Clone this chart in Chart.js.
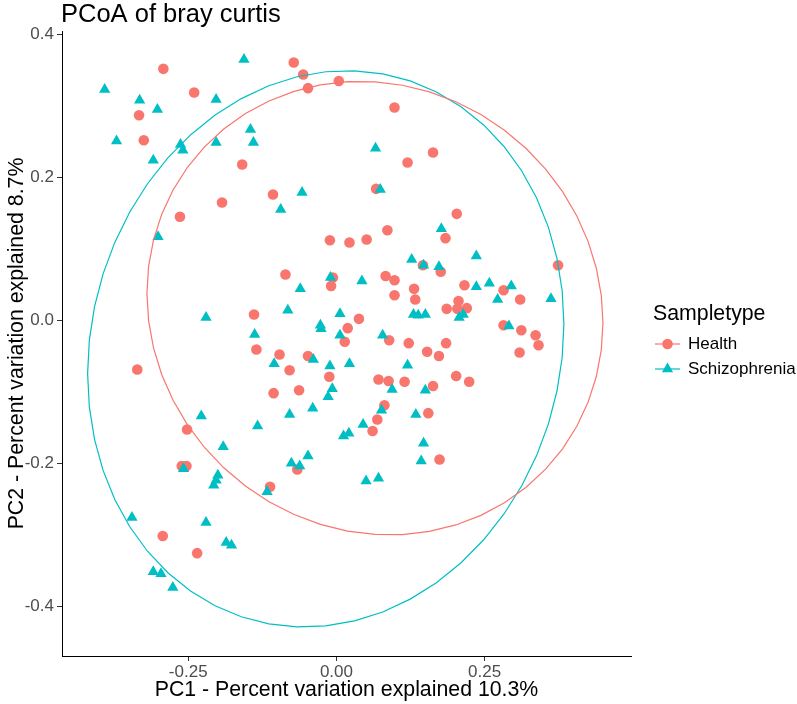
<!DOCTYPE html>
<html>
<head>
<meta charset="utf-8">
<script src="https://cdn.jsdelivr.net/npm/chart.js@4"></script>
<style>
  html, body { margin: 0; padding: 0; background: #fff; }
  #wrap { width: 797px; height: 704px; }
</style>
</head>
<body>
<div id="wrap"><canvas id="pcoa" width="797" height="704"></canvas></div>
<script>
const groups = ['Health', 'Schizophrenia'];
const colors = ['#F8766D', '#00BFC4'];

// [PC1, PC2] per sample
const healthPoints = [
  [-0.292, 0.352], [-0.240, 0.319], [-0.333, 0.287], [-0.325, 0.252], [-0.159, 0.218],
  [-0.193, 0.165], [-0.264, 0.145], [-0.072, 0.361], [-0.056, 0.344], [-0.048, 0.325],
  [0.004, 0.335], [0.098, 0.298], [0.163, 0.235], [0.120, 0.221], [-0.107, 0.176],
  [0.067, 0.184], [0.203, 0.149], [-0.139, 0.008], [-0.135, -0.041], [-0.336, -0.069],
  [-0.011, 0.112], [0.022, 0.109], [0.051, 0.113], [0.086, 0.126], [0.184, 0.115],
  [-0.086, 0.064], [-0.006, 0.060], [-0.009, 0.048], [0.083, 0.062], [0.098, 0.056],
  [0.098, 0.035], [0.131, 0.044], [0.133, 0.029], [0.146, 0.077], [0.176, 0.068],
  [0.186, 0.016], [0.038, 0.002], [0.019, -0.011], [0.014, -0.030], [0.089, -0.028],
  [0.122, -0.032], [0.185, -0.032], [0.153, -0.044], [0.173, -0.050], [-0.096, -0.048],
  [-0.079, -0.070], [-0.048, -0.050], [-0.012, -0.079], [0.071, -0.083], [0.088, -0.085],
  [0.115, -0.086], [0.163, -0.092], [-0.106, -0.102], [-0.063, -0.098], [0.374, 0.077],
  [0.216, 0.049], [0.282, 0.042], [0.310, 0.029], [0.206, 0.027], [0.220, 0.017],
  [0.204, 0.016], [0.282, -0.007], [0.312, -0.014], [0.336, -0.021], [0.341, -0.035],
  [0.309, -0.045], [0.202, -0.078], [0.224, -0.086], [-0.252, -0.153], [-0.261, -0.204],
  [-0.253, -0.204], [-0.293, -0.302], [-0.235, -0.326], [0.081, -0.119], [0.069, -0.139],
  [0.061, -0.155], [0.155, -0.130], [0.174, -0.195], [-0.066, -0.209], [-0.112, -0.233]
];

const schizoPoints = [
  [-0.156, 0.365], [-0.391, 0.323], [-0.332, 0.308], [-0.203, 0.309], [-0.302, 0.295],
  [-0.145, 0.267], [-0.371, 0.251], [-0.263, 0.246], [-0.259, 0.238], [-0.203, 0.249],
  [-0.140, 0.249], [-0.309, 0.224], [0.066, 0.241], [-0.058, 0.179], [-0.094, 0.155],
  [0.074, 0.183], [-0.301, 0.117], [-0.220, 0.004], [-0.138, -0.020], [0.177, 0.128],
  [0.127, 0.085], [0.147, 0.077], [0.173, 0.075], [-0.010, 0.060], [0.043, 0.055],
  [-0.061, 0.044], [-0.082, 0.014], [0.006, 0.009], [0.130, 0.008], [0.138, 0.007],
  [0.150, 0.008], [-0.027, -0.007], [-0.026, -0.012], [0.006, -0.021], [0.078, -0.021],
  [-0.105, -0.061], [-0.039, -0.055], [-0.011, -0.064], [0.022, -0.061], [0.120, -0.063],
  [-0.007, -0.096], [-0.014, -0.107], [0.094, -0.097], [0.150, -0.098], [0.236, 0.090],
  [0.236, 0.047], [0.258, 0.052], [0.295, 0.048], [0.272, 0.029], [0.362, 0.030],
  [0.207, 0.004], [0.214, 0.008], [0.291, -0.008], [-0.228, -0.134], [-0.133, -0.148],
  [-0.191, -0.177], [-0.258, -0.208], [-0.200, -0.217], [-0.203, -0.224], [-0.207, -0.231],
  [-0.345, -0.276], [-0.220, -0.283], [-0.186, -0.311], [-0.177, -0.315], [-0.309, -0.352],
  [-0.296, -0.355], [-0.276, -0.374], [-0.079, -0.132], [-0.040, -0.123], [0.076, -0.126],
  [0.045, -0.146], [0.012, -0.162], [0.021, -0.158], [0.134, -0.132], [0.147, -0.172],
  [0.143, -0.197], [-0.048, -0.190], [-0.076, -0.200], [-0.062, -0.204], [0.050, -0.225],
  [0.071, -0.221], [-0.117, -0.240]
];

// stat_ellipse outlines: centre [PC1, PC2] and spread [sd PC1, sd PC2, covariance]
const ellipseCentres = [[0.065, 0.017], [-0.018, -0.040]];
const ellipseSpreads = [[0.3847, 0.3175, -0.0079], [0.4018, 0.3895, 0.0140]];

const xTicks = [-0.25, 0, 0.25];
const yTicks = [-0.4, -0.2, 0, 0.2, 0.4];
const xRange = [-0.463, 0.497];
const yRange = [-0.470, 0.405];

const FONT = '"Liberation Sans", Arial, sans-serif';

function ellipseOutline(c, s) {
  const l21 = s[2] / s[0];
  const l22 = Math.sqrt(s[1] * s[1] - l21 * l21);
  const out = [];
  for (let i = 0; i <= 52; i++) {
    const t = 2 * Math.PI * i / 52;
    out.push({ x: c[0] + s[0] * Math.cos(t), y: c[1] + l21 * Math.cos(t) + l22 * Math.sin(t) });
  }
  return out;
}

const toXY = arr => arr.map(p => ({ x: p[0], y: p[1] }));

const legendPlugin = {
  id: 'ggLegend',
  afterDraw(chart) {
    const ctx = chart.ctx;
    ctx.save();
    // plot title
    ctx.fillStyle = '#000';
    ctx.font = '25.5px ' + FONT;
    ctx.textAlign = 'left';
    ctx.textBaseline = 'alphabetic';
    ctx.fillText('PCoA of bray curtis', 61, 22);

    ctx.font = '21.3px ' + FONT;
    ctx.textBaseline = 'middle';
    ctx.fillText('Sampletype', 653, 314);

    const rows = [344, 369];
    groups.forEach((g, i) => {
      const y = rows[i];
      ctx.strokeStyle = colors[i];
      ctx.lineWidth = 1.2;
      ctx.beginPath();
      ctx.moveTo(655, y);
      ctx.lineTo(680, y);
      ctx.stroke();
      ctx.fillStyle = colors[i];
      ctx.beginPath();
      if (i === 0) {
        ctx.arc(667.5, y, 5.3, 0, Math.PI * 2);
      } else {
        const r = 6.5;
        ctx.moveTo(667.5, y - r);
        ctx.lineTo(667.5 + r * Math.sqrt(3) / 2, y + r / 2);
        ctx.lineTo(667.5 - r * Math.sqrt(3) / 2, y + r / 2);
        ctx.closePath();
      }
      ctx.fill();
      ctx.fillStyle = '#000';
      ctx.font = '17px ' + FONT;
      ctx.fillText(g, 688, y);
    });
    ctx.restore();
  }
};

const axisCommon = {
  type: 'linear',
  grid: { drawOnChartArea: false, drawTicks: true, tickLength: 5, tickColor: '#333333', tickWidth: 1 },
  border: { display: true, color: '#000', width: 1 }
};

new Chart(document.getElementById('pcoa'), {
  type: 'scatter',
  data: {
    datasets: [
      {
        label: groups[0] + ' ellipse',
        data: ellipseOutline(ellipseCentres[0], ellipseSpreads[0]),
        showLine: true, borderColor: colors[0], borderWidth: 1.2,
        pointRadius: 0, fill: false, tension: 0
      },
      {
        label: groups[1] + ' ellipse',
        data: ellipseOutline(ellipseCentres[1], ellipseSpreads[1]),
        showLine: true, borderColor: colors[1], borderWidth: 1.2,
        pointRadius: 0, fill: false, tension: 0
      },
      {
        label: groups[1],
        data: toXY(schizoPoints),
        pointStyle: 'triangle', pointRadius: 6.5, pointBorderWidth: 0,
        backgroundColor: colors[1], borderColor: colors[1]
      },
      {
        label: groups[0],
        data: toXY(healthPoints),
        pointStyle: 'circle', pointRadius: 5.3, pointBorderWidth: 0,
        backgroundColor: colors[0], borderColor: colors[0]
      }
    ]
  },
  options: {
    responsive: false,
    animation: false,
    devicePixelRatio: 1,
    layout: { padding: { top: 31, right: 166, bottom: 0, left: 0 } },
    plugins: { legend: { display: false }, tooltip: { enabled: false }, title: { display: false } },
    scales: {
      x: {
        ...axisCommon,
        min: xRange[0], max: xRange[1],
        afterBuildTicks: s => { s.ticks = xTicks.map(v => ({ value: v })); },
        afterFit: s => { s.height = 48; },
        ticks: { color: '#4D4D4D', font: { family: FONT, size: 17 }, padding: 1, callback: v => v.toFixed(2) },
        title: { display: true, text: 'PC1 - Percent variation explained 10.3%', color: '#000',
                 font: { family: FONT, size: 21.3 }, padding: { top: 0, bottom: 1 } }
      },
      y: {
        ...axisCommon,
        min: yRange[0], max: yRange[1],
        afterBuildTicks: s => { s.ticks = yTicks.map(v => ({ value: v })); },
        afterFit: s => { s.width = 62; },
        ticks: { color: '#4D4D4D', font: { family: FONT, size: 17 }, padding: 3, callback: v => v.toFixed(1) },
        title: { display: true, text: 'PC2 - Percent variation explained 8.7%', color: '#000',
                 font: { family: FONT, size: 21.3 }, padding: { top: 4, bottom: 0 } }
      }
    }
  },
  plugins: [legendPlugin]
});
</script>
</body>
</html>
